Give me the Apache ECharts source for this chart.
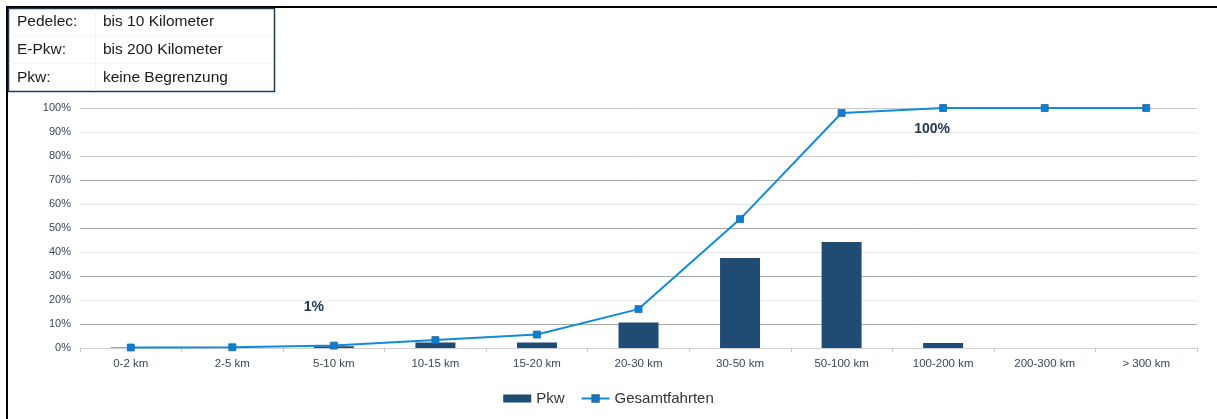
<!DOCTYPE html>
<html>
<head>
<meta charset="utf-8">
<script src="https://cdn.jsdelivr.net/npm/echarts@6/dist/echarts.min.js"></script>
<style>
  html, body { margin: 0; padding: 0; background: #fff; }
  #chart { width: 1217px; height: 419px; }
</style>
</head>
<body>
<div id="chart"></div>
<script>
// Distance bands
const categories = ['0-2 km', '2-5 km', '5-10 km', '10-15 km', '15-20 km', '20-30 km',
  '30-50 km', '50-100 km', '100-200 km', '200-300 km', '> 300 km'];
// Share of car trips per distance band (%)
const pkwShare = [0.2, 0.1, 0.7, 2.3, 2.3, 10.6, 37.5, 44.2, 2.1, 0, 0];
// Cumulative share of all trips (%)
const cumulativeTrips = [0.2, 0.3, 1.0, 3.3, 5.6, 16.2, 53.7, 97.9, 100, 100, 100];
// Range table shown in the upper left corner
const rangeRows = [
  ['Pedelec:', 'bis 10 Kilometer'],
  ['E-Pkw:', 'bis 200 Kilometer'],
  ['Pkw:', 'keine Begrenzung']
];
// Annotated points on the cumulative line (category index)
const annotated = { 2: '1%', 8: '100%' };
const annotationOffsets = { 2: [-20, -38], 8: [-11, 21] };

const FONT = '"Liberation Sans", Arial, sans-serif';
const chart = echarts.init(document.getElementById('chart'), null, { renderer: 'canvas' });

const lineData = cumulativeTrips.map((v, i) => {
  if (annotated[i] === undefined) return v;
  return {
    value: v,
    label: {
      show: true,
      formatter: annotated[i],
      position: 'inside',
      offset: annotationOffsets[i],
      fontFamily: FONT,
      fontSize: 14,
      fontWeight: 'bold',
      color: '#1f3550'
    }
  };
});

// Frame lines and the range table
const graphics = [
  { type: 'line', shape: { x1: 7, y1: 7, x2: 1217, y2: 7 }, style: { stroke: '#000', lineWidth: 2 } },
  { type: 'line', shape: { x1: 7, y1: 6, x2: 7, y2: 419 }, style: { stroke: '#000', lineWidth: 2 } },
  { type: 'rect', shape: { x: 8.5, y: 8.5, width: 266, height: 83 }, style: { fill: '#fff', stroke: '#1f3a52', lineWidth: 1.5 }, z: 10 },
  { type: 'line', shape: { x1: 95.5, y1: 9, x2: 95.5, y2: 91 }, style: { stroke: '#f3f4f6', lineWidth: 1 }, z: 11 },
  { type: 'line', shape: { x1: 9, y1: 35.5, x2: 274, y2: 35.5 }, style: { stroke: '#f3f4f6', lineWidth: 1 }, z: 11 },
  { type: 'line', shape: { x1: 9, y1: 63.5, x2: 274, y2: 63.5 }, style: { stroke: '#f3f4f6', lineWidth: 1 }, z: 11 }
];
rangeRows.forEach((row, i) => {
  const y = 21.5 + i * 28;
  graphics.push({ type: 'text', x: 17, y: y, z: 12,
    style: { text: row[0], font: '15.5px ' + FONT, fill: '#1a1a1a', verticalAlign: 'middle' } });
  graphics.push({ type: 'text', x: 103, y: y, z: 12,
    style: { text: row[1], font: '15.5px ' + FONT, fill: '#1a1a1a', verticalAlign: 'middle' } });
});

chart.setOption({
  animation: false,
  textStyle: { fontFamily: FONT },
  grid: { left: 80, right: 20, top: 108, bottom: 71, containLabel: false },
  legend: {
    bottom: 8,
    left: 'center',
    itemGap: 16,
    textStyle: { fontFamily: FONT, fontSize: 15, color: '#333' },
    data: [
      { name: 'Pkw', icon: 'rect', itemWidth: 24, itemHeight: 8 },
      { name: 'Gesamtfahrten' }
    ],
    itemWidth: 28,
    itemHeight: 8
  },
  xAxis: {
    type: 'category',
    data: categories,
    boundaryGap: true,
    axisLine: { show: true, lineStyle: { color: '#d0d0d0', width: 1 } },
    axisTick: { show: true, length: 4, lineStyle: { color: '#c8c8c8' } },
    axisLabel: { color: '#3a4654', fontSize: 11.5, margin: 10, fontFamily: FONT }
  },
  yAxis: {
    type: 'value',
    min: 0,
    max: 100,
    interval: 10,
    axisLine: { show: false },
    axisTick: { show: false },
    axisLabel: { formatter: '{value}%', color: '#3a4654', fontSize: 11, margin: 9, fontFamily: FONT },
    splitLine: {
      show: true,
      lineStyle: {
        color: ['#d0d0d0', '#a8a8a8', '#ececec', '#a8a8a8', '#ececec', '#a8a8a8',
                '#e2e2e2', '#a8a8a8', '#c8c8c8', '#ececec', '#c8c8c8'],
        width: 1
      }
    }
  },
  series: [
    {
      name: 'Pkw',
      type: 'bar',
      data: pkwShare,
      barWidth: 40,
      itemStyle: { color: '#204b73' }
    },
    {
      name: 'Gesamtfahrten',
      type: 'line',
      data: lineData,
      symbol: 'rect',
      symbolSize: 7,
      lineStyle: { color: '#138ad6', width: 2 },
      itemStyle: { color: '#0a7ed0', borderColor: '#2a6a9a', borderWidth: 0.8 },
      z: 3
    }
  ],
  graphic: graphics
});
</script>
</body>
</html>
